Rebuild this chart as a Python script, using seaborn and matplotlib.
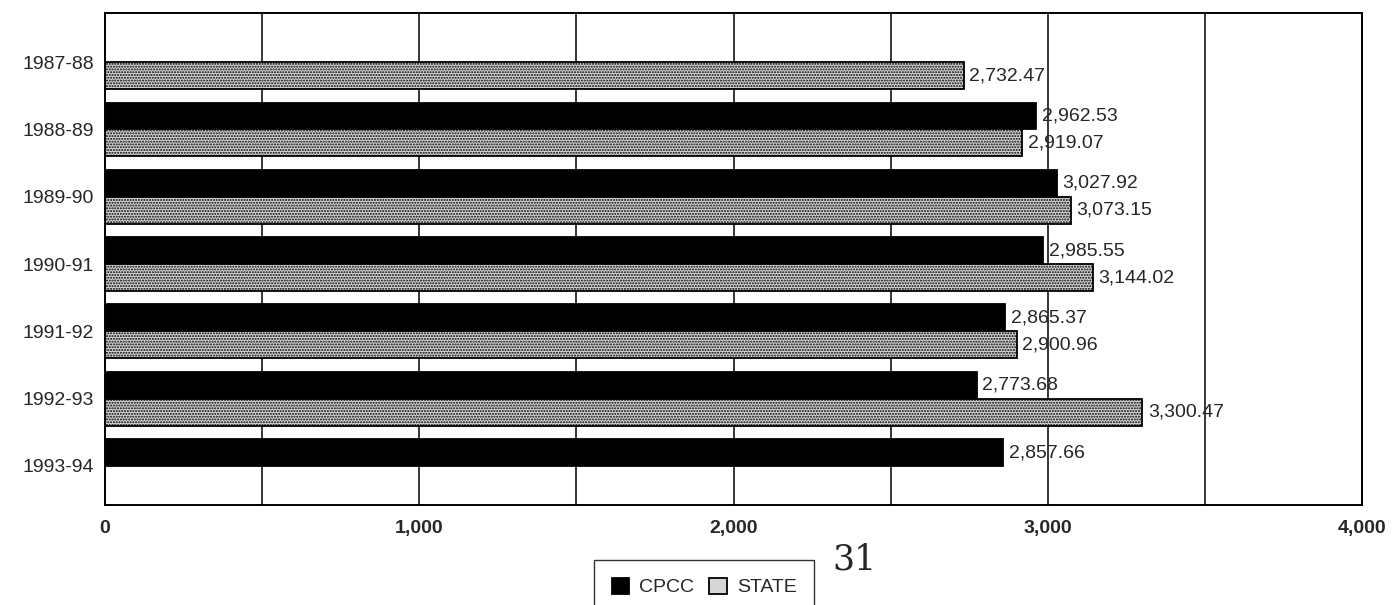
import numpy as np
import pandas as pd
import matplotlib
matplotlib.use("Agg")
import matplotlib.pyplot as plt
import seaborn as sns
from matplotlib.ticker import FuncFormatter, MultipleLocator

years = ["1987-88", "1988-89", "1989-90", "1990-91", "1991-92", "1992-93", "1993-94"]
cpcc = [np.nan, 2962.53, 3027.92, 2985.55, 2865.37, 2773.68, 2857.66]
state = [2732.47, 2919.07, 3073.15, 3144.02, 2900.96, 3300.47, np.nan]
series = ["CPCC", "STATE"]

df = pd.DataFrame({
    "year": years * 2,
    "value": cpcc + state,
    "series": [series[0]] * len(years) + [series[1]] * len(years),
})

sns.set_theme(style="white")
plt.rcParams["font.family"] = ["Liberation Sans", "DejaVu Sans"]
plt.rcParams["hatch.color"] = "#777777"
plt.rcParams["hatch.linewidth"] = 1.0

fig = plt.figure(figsize=(13.92, 6.05), dpi=100)
ax = fig.add_axes([105 / 1392, 1 - 505 / 605, (1362 - 105) / 1392, (505 - 13) / 605])

sns.barplot(data=df, y="year", x="value", hue="series", order=years,
            hue_order=series, orient="h", palette=["#000000", "#d6d6d6"],
            width=0.8, ax=ax, edgecolor="black", linewidth=1.3, legend=True)

for cont, name in zip(ax.containers, series):
    for p in cont.patches:
        if name == "STATE":
            p.set_hatch("......")
    labels = [("" if (np.isnan(v) or v == 0) else f"{v:,.2f}") for v in cont.datavalues]
    ax.bar_label(cont, labels=labels, padding=4, fontsize=14)

ax.set_xlim(0, 4000)
ax.set_ylim(6.58, -0.73)
ax.xaxis.set_major_locator(MultipleLocator(1000))
ax.xaxis.set_minor_locator(MultipleLocator(500))
ax.xaxis.set_major_formatter(FuncFormatter(lambda v, p: f"{v:,.0f}"))
ax.grid(True, which="both", axis="x", color="black", linewidth=1.1)
ax.set_axisbelow(True)
ax.set_xlabel("")
ax.set_ylabel("")
ax.tick_params(axis="x", labelsize=14, pad=11, length=0)
ax.tick_params(axis="y", labelsize=14, length=0, pad=8)
for lbl in ax.get_xticklabels():
    lbl.set_fontweight("bold")
for s in ax.spines.values():
    s.set_color("black")
    s.set_linewidth(1.4)

leg = ax.get_legend()
handles = leg.legend_handles
leg.remove()
fig.legend(handles, series, loc="upper center", bbox_to_anchor=(704 / 1392, 1 - 560 / 605),
           ncol=2, frameon=True, fancybox=False, edgecolor="black",
           fontsize=14, handlelength=0.9, handleheight=0.9, columnspacing=0.8,
           handletextpad=0.5, borderpad=0.9, borderaxespad=0)

fig.text(832 / 1392, 1 - 560 / 605, "31", fontsize=25, family="DejaVu Serif",
         ha="left", va="center")

fig.savefig("out.png", dpi=100)
